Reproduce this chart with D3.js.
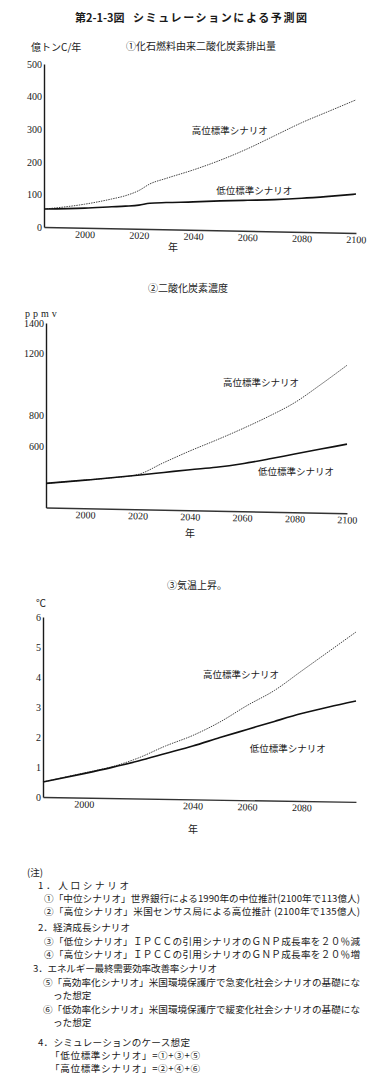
<!DOCTYPE html>
<html>
<head>
<meta charset="utf-8">
<script src="https://cdn.jsdelivr.net/npm/d3@7"></script>
<style>
  body { margin: 0; background: #fff; }
  svg { display: block; }
</style>
</head>
<body>
<div id="fig"></div>
<script>
// ---- data ----
// ① 化石燃料由来二酸化炭素排出量 (億トンC/年)
const years1 = [1985, 2000, 2010, 2015, 2020, 2024, 2030, 2040, 2050, 2060, 2070, 2080, 2090, 2100];
const high1  = [55, 70, 86, 96, 112, 132, 149, 175, 205, 240, 280, 320, 355, 390];
const low1   = [55, 58, 62, 64, 67, 73, 75, 77, 80, 82, 84, 88, 94, 101];
const yTicks1 = [0, 100, 200, 300, 400, 500];
const xTicks1 = [2000, 2020, 2040, 2060, 2080, 2100];

// ② 二酸化炭素濃度 (ppmv)
const years2 = [1985, 2000, 2010, 2020, 2030, 2040, 2050, 2060, 2070, 2080, 2090, 2100];
const high2  = [357, 378, 393, 414, 492, 568, 638, 712, 792, 882, 1000, 1125];
const low2   = [357, 378, 393, 410, 428, 446, 462, 485, 515, 548, 580, 612];
const yTicks2 = [600, 800, 1200, 1400];
const xTicks2 = [2000, 2020, 2040, 2060, 2080, 2100];

// ③ 気温上昇 (℃)
const years3 = [1985, 2000, 2010, 2020, 2030, 2040, 2050, 2060, 2070, 2080, 2090, 2100];
const high3  = [0.5, 0.8, 1.0, 1.3, 1.7, 2.05, 2.5, 3.05, 3.55, 4.2, 4.85, 5.5];
const low3   = [0.5, 0.78, 0.98, 1.2, 1.45, 1.7, 1.98, 2.25, 2.52, 2.78, 3.0, 3.2];
const yTicks3 = [0, 1, 2, 3, 4, 5, 6];
const xTicks3 = [2000, 2040, 2060, 2080];

const highName = "高位標準シナリオ";
const lowName = "低位標準シナリオ";

const notes = [
  "(注)",
  "1．人口シナリオ",
  "①「中位シナリオ」世界銀行による1990年の中位推計(2100年で113億人)",
  "②「高位シナリオ」米国センサス局による高位推計 (2100年で135億人)",
  "2．経済成長シナリオ",
  "③「低位シナリオ」ＩＰＣＣの引用シナリオのＧＮＰ成長率を２０％減",
  "④「高位シナリオ」ＩＰＣＣの引用シナリオのＧＮＰ成長率を２０％増",
  "3．エネルギー最終需要効率改善率シナリオ",
  "⑤「高効率化シナリオ」米国環境保護庁で急変化社会シナリオの基礎にな",
  "った想定",
  "⑥「低効率化シナリオ」米国環境保護庁で緩変化社会シナリオの基礎にな",
  "った想定",
  "4．シミュレーションのケース想定",
  "「低位標準シナリオ」=①+③+⑤",
  "「高位標準シナリオ」=②+④+⑥"
];

// ---- drawing ----
const W = 390, H = 1089;
const JP = "'Noto Sans CJK JP', sans-serif";
const NUM = "'Liberation Serif', 'Times New Roman', serif";
const ink = "#1a1a1a";

const svg = d3.select("#fig").append("svg")
  .attr("width", W).attr("height", H)
  .attr("style", "background-color: white");

// figure title
svg.append("text").attr("x", 75).attr("y", 18).attr("dy", "0.35em")
  .attr("font-family", JP).attr("font-weight", "bold").attr("font-size", 11)
  .attr("fill", ink).text("第2-1-3図");
svg.append("text").attr("x", 133).attr("y", 18).attr("dy", "0.35em")
  .attr("font-family", JP).attr("font-weight", "bold").attr("font-size", 11)
  .attr("textLength", 174).attr("lengthAdjust", "spacing")
  .attr("fill", ink).text("シミュレーションによる予測図");

function drawPanel(p) {
  const x = d3.scaleLinear().domain(p.xDomain).range([p.left, p.right]);
  const y = d3.scaleLinear().domain(p.yDomain).range([p.bottom, p.top]);
  const g = svg.append("g");

  // subtitle + unit
  g.append("text").attr("x", p.titleX).attr("y", p.titleY).attr("dy", "0.35em")
    .attr("text-anchor", "middle").attr("font-family", JP).attr("font-size", 10)
    .attr("fill", ink).text(p.title);
  g.append("text").attr("x", p.unitX).attr("y", p.unitY).attr("dy", "0.35em")
    .attr("font-family", p.unitFont).attr("font-size", 10)
    .attr("letter-spacing", p.unitSpacing || 0)
    .attr("fill", ink).text(p.unit);

  // y axis
  const ya = g.append("g")
    .attr("transform", `translate(${p.left},0)`)
    .call(d3.axisLeft(y).tickValues(p.yTicks).tickFormat(d3.format("d"))
      .tickSize(0).tickSizeOuter(0).tickPadding(2));
  ya.select(".domain").attr("stroke", ink).attr("stroke-width", 1.4);
  ya.selectAll("text").attr("font-family", NUM).attr("font-size", 10).attr("fill", ink);

  // x axis (slightly tilted, as on the printed page)
  const xa = g.append("g")
    .attr("transform", `rotate(${p.tilt},${p.left},${p.bottom}) translate(0,${p.bottom})`)
    .call(d3.axisBottom(x).tickValues(p.xTicks).tickFormat(d3.format("d"))
      .tickSize(0).tickSizeOuter(0).tickPadding(3));
  xa.select(".domain").attr("stroke", "#333").attr("stroke-width", 1.4);
  xa.selectAll("text").attr("font-family", NUM).attr("font-size", 10).attr("fill", ink);

  g.append("text").attr("x", p.nenX).attr("y", p.nenY).attr("dy", "0.35em")
    .attr("text-anchor", "middle").attr("font-family", JP).attr("font-size", 10)
    .attr("fill", ink).text("年");

  const line = d3.line()
    .x(d => x(d[0]))
    .y(d => y(d[1]))
    .curve(d3.curveMonotoneX);

  // high scenario: thin dotted line
  g.append("path")
    .datum(d3.zip(p.years, p.high))
    .attr("fill", "none")
    .attr("stroke", "#444")
    .attr("stroke-width", 1)
    .attr("stroke-dasharray", "1.5,1")
    .attr("d", line);

  // low scenario: solid line
  g.append("path")
    .datum(d3.zip(p.years, p.low))
    .attr("fill", "none")
    .attr("stroke", "#111")
    .attr("stroke-width", 1.6)
    .attr("d", line);

  // scenario labels
  g.append("text").attr("x", x(p.highLabel[0])).attr("y", y(p.highLabel[1])).attr("dy", "0.35em")
    .attr("font-family", JP).attr("font-size", 9.5).attr("fill", ink).text(highName);
  g.append("text").attr("x", x(p.lowLabel[0])).attr("y", y(p.lowLabel[1])).attr("dy", "0.35em")
    .attr("font-family", JP).attr("font-size", 9.5).attr("fill", ink).text(lowName);
}

drawPanel({
  title: "①化石燃料由来二酸化炭素排出量", titleX: 201, titleY: 46,
  unit: "億トンC/年", unitX: 31, unitY: 47, unitFont: JP,
  xDomain: [1985, 2100], yDomain: [0, 500],
  left: 44, right: 356, top: 64, bottom: 227, tilt: 1.1,
  years: years1, high: high1, low: low1,
  xTicks: xTicks1, yTicks: yTicks1,
  nenX: 173, nenY: 247,
  highLabel: [2039.5, 297], lowLabel: [2048.5, 110]
});

drawPanel({
  title: "②二酸化炭素濃度", titleX: 188, titleY: 288,
  unit: "ppmv", unitX: 25, unitY: 313, unitFont: NUM, unitSpacing: 3,
  xDomain: [1985, 2100], yDomain: [200, 1400],
  left: 46, right: 347, top: 323, bottom: 507.5, tilt: 1.1,
  years: years2, high: high2, low: low2,
  xTicks: xTicks2, yTicks: yTicks2,
  nenX: 190, nenY: 533,
  highLabel: [2052.6, 1010], lowLabel: [2066, 431]
});

drawPanel({
  title: "③気温上昇。", titleX: 197, titleY: 585,
  unit: "℃", unitX: 36, unitY: 603, unitFont: JP,
  xDomain: [1985, 2100], yDomain: [0, 6],
  left: 43, right: 356, top: 617, bottom: 797, tilt: 0.9,
  years: years3, high: high3, low: low3,
  xTicks: xTicks3, yTicks: yTicks3,
  nenX: 193, nenY: 829,
  highLabel: [2043.8, 4.07], lowLabel: [2061, 1.6]
});

// notes block
const noteX = [27, 38, 44, 44, 38, 44, 44, 33, 43, 53, 43, 53, 38, 50, 50];
const noteY = [873, 886, 899, 912, 928, 942, 955, 969, 983, 996, 1010, 1023, 1043, 1056, 1069];
const noteLen = [0, 91, 316, 316, 92, 316, 316, 184, 317, 0, 317, 0, 152, 150, 150];

svg.append("g").selectAll("text")
  .data(notes)
  .join("text")
  .attr("x", (d, i) => noteX[i])
  .attr("y", (d, i) => noteY[i])
  .attr("dy", "0.35em")
  .attr("font-family", JP)
  .attr("font-size", 9.6)
  .attr("fill", ink)
  .each(function(d, i) {
    if (noteLen[i]) d3.select(this).attr("textLength", noteLen[i]).attr("lengthAdjust", "spacing");
  })
  .text(d => d);
</script>
</body>
</html>
